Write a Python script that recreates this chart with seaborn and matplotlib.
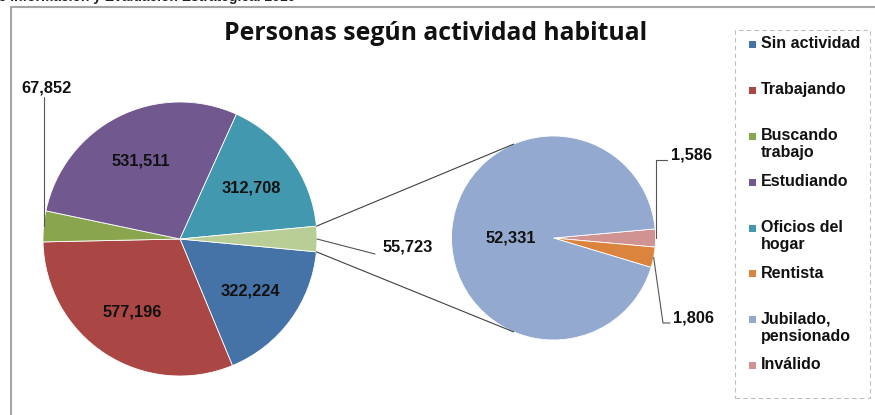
import numpy as np
import matplotlib
matplotlib.use("Agg")
import matplotlib.pyplot as plt
from matplotlib.patches import Rectangle
import seaborn as sns

# main pie (legend order), the small group is broken out into the second pie
main_labels = ["Sin actividad", "Trabajando", "Buscando\ntrabajo", "Estudiando", "Oficios del\nhogar"]
main_values = [322224, 577196, 67852, 531511, 312708]
main_colors = ["#4572A7", "#AA4643", "#89A54E", "#71588F", "#4198AF"]
other_value = 55723
other_color = "#B9CD96"

# secondary pie
sub_labels = ["Rentista", "Jubilado,\npensionado", "Inválido"]
sub_values = [1806, 52331, 1586]
sub_colors = ["#DB843D", "#93A9CF", "#D19392"]

title = "Personas según actividad habitual"
source = "de Información y Evaluación Estratégica. 2010"

W, H = 875, 415


def Y(y):
    # image rows -> axis units (y up)
    return H - y


sns.set_theme(style="white")
plt.rcParams["font.family"] = ["Liberation Sans", "DejaVu Sans"]

fig = plt.figure(figsize=(W / 100, H / 100), dpi=100)
ax = fig.add_axes([0, 0, 1, 1])

c1, r1 = (180, Y(239)), 137
c2, r2 = (553.5, Y(238)), 102

total = sum(main_values) + other_value
half = other_value / total * 360 / 2

w1, _ = ax.pie(main_values + [other_value], colors=main_colors + [other_color],
               startangle=-half, counterclock=False, center=c1, radius=r1,
               wedgeprops=dict(edgecolor="white", linewidth=0.6))

# secondary pie: Inválido, Rentista, Jubilado clockwise from the top of the pink slice
sub_order = [2, 0, 1]
sub_total = sum(sub_values)
start2 = sub_values[2] / sub_total * 360 / 2
w2, _ = ax.pie([sub_values[i] for i in sub_order], colors=[sub_colors[i] for i in sub_order],
               startangle=start2, counterclock=False, center=c2, radius=r2,
               wedgeprops=dict(edgecolor="white", linewidth=0.6))

lab_kw = dict(fontsize=11.8, fontweight="bold", color="#111111")


def pt(c, r, ang):
    a = np.deg2rad(ang)
    return c[0] + r * np.cos(a), c[1] + r * np.sin(a)


def mid(w):
    return (w.theta1 + w.theta2) / 2


# inside labels of the main pie
for i in [0, 1, 3, 4]:
    x, y = pt(c1, r1 * 0.64, mid(w1[i]))
    ax.text(x, y, f"{main_values[i]:,}", ha="center", va="center", **lab_kw)

# Buscando trabajo, outside with leader
x0, y0 = pt(c1, r1, mid(w1[2]))
ax.plot([x0, x0], [y0, Y(97)], color="#555555", lw=0.8)
ax.text(x0 + 3, Y(88), f"{main_values[2]:,}", ha="center", va="center", **lab_kw)

# broken-out group label
x0, y0 = pt(c1, r1, mid(w1[5]))
ax.plot([x0, 375], [y0, Y(254)], color="#555555", lw=0.8)
ax.text(383, Y(247), f"{other_value:,}", ha="left", va="center", **lab_kw)

# connector lines between the two pies
for s in (1, -1):
    xa, ya = pt(c1, r1, s * half)
    xb, yb = pt(c2, r2, s * 113)
    ax.plot([xa, xb], [ya, yb], color="#404040", lw=0.8)

# secondary labels
x, y = pt(c2, r2 * 0.42, 180)
ax.text(x, y, f"{sub_values[1]:,}", ha="center", va="center", **lab_kw)

x0, y0 = pt(c2, r2, mid(w2[0]))
ax.plot([x0, x0, 667], [y0, Y(160), Y(160)], color="#555555", lw=0.8)
ax.text(671, Y(155), f"{sub_values[2]:,}", ha="left", va="center", **lab_kw)

x0, y0 = pt(c2, r2, mid(w2[1]))
ax.plot([x0, 663, 670], [y0, Y(323), Y(323)], color="#555555", lw=0.8)
ax.text(673, Y(318), f"{sub_values[0]:,}", ha="left", va="center", **lab_kw)

# title and clipped source line
ax.text(436, Y(34), title, ha="center", va="center", fontsize=17.8,
        fontweight="bold", family=["Open Sans", "DejaVu Sans"], color="#111111")
ax.text(-10, Y(-3), source, ha="left", va="center", fontsize=10,
        fontweight="bold", color="#222222")

# chart frame
ax.plot([10.5, 10.5, W + 5], [0, Y(7.5), Y(7.5)], color="#A6A6A6", lw=1.5)

# legend box
ax.add_patch(Rectangle((735, Y(398)), 135, 368, fill=False, edgecolor="#BFBFBF",
                       lw=0.8, linestyle=(0, (4, 3))))
leg_labels = main_labels[:5] + sub_labels
leg_colors = main_colors + sub_colors
for i, (lab, col) in enumerate(zip(leg_labels, leg_colors)):
    yy = 45 + i * 45.8
    ax.add_patch(Rectangle((749, Y(yy) - 3.5), 7, 7, facecolor=col, edgecolor="none"))
    ax.text(761, Y(yy) + 8.5, lab, ha="left", va="top", fontsize=11.5, fontweight="bold",
            color="#111111", linespacing=1.2)

ax.set_xlim(0, W)
ax.set_ylim(0, H)
ax.set_aspect("equal")
ax.axis("off")

fig.savefig("out.png", dpi=100)
